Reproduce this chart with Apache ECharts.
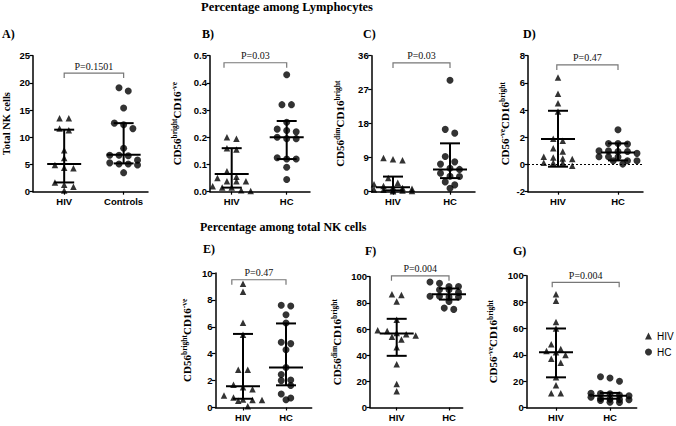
<!DOCTYPE html>
<html><head><meta charset="utf-8">
<script src="https://cdn.jsdelivr.net/npm/echarts@6/dist/echarts.min.js"></script>
<style>html,body{margin:0;padding:0;background:#fff}#c{width:676px;height:426px}</style>
</head><body><div id="c"></div>
<script>
// ---------- DATA ----------
const groupsA = ['HIV', 'Controls'];
const groupsB = ['HIV', 'HC'];

const aHIV  = [13.5, 13.5, 11.3, 11.6, 7.6, 6.2, 4.3, 4.9, 4.4, 1.3, 1.7, 0.9, 0.2];
const aCtrl = [19.1, 18.5, 15.4, 12.6, 12.3, 11.6, 8.0, 6.7, 6.6, 6.7, 5.8, 5.3, 5.1, 4.9, 5.1, 3.5];
const aHIVStats  = [1.7, 5.1, 11.4];   // q1, median, q3
const aCtrlStats = [5.2, 6.8, 12.6];

const bHIV = [0.2, 0.195, 0.16, 0.155, 0.075, 0.055, 0.05, 0.038, 0.038, 0.038, 0.02, 0.015, 0.015, 0.005, 0.003];
const bHC  = [0.43, 0.32, 0.32, 0.255, 0.225, 0.22, 0.23, 0.195, 0.2, 0.195, 0.125, 0.12, 0.12, 0.09, 0.045];
const bHIVStats = [0.015, 0.065, 0.16];
const bHCStats  = [0.12, 0.2, 0.26];

const cHIV = [8.9, 8.6, 8.3, 3.6, 2.4, 2.0, 1.5, 1.2, 1.0, 0.8, 0.6, 0.5, 0.4, 0.3, 0.2, 0.1];
const cHC  = [29.5, 16.5, 15.5, 9.3, 7.9, 7.3, 6.2, 5.9, 4.9, 4.1, 4.0, 2.6, 1.8, 0.9];
const cHIVStats = [0.35, 1.2, 4.0];
const cHCStats  = [3.6, 5.9, 12.8];

const dHIV = [6.4, 5.2, 4.5, 3.9, 1.9, 1.75, 1.2, 0.95, 0.52, 0.4, 0.45, 0.57, 0.13, 0.13, 0.13, -0.1];
const dHC  = [2.55, 1.55, 1.55, 1.5, 1.0, 1.0, 0.95, 0.95, 0.82, 0.57, 0.57, 0.55, 0.28, 0.28, 0.28, 0.03];
const dHIVStats = [-0.16, 1.88, 3.95];
const dHCStats  = [0.3, 0.88, 1.55];

const eHIV = [9.2, 8.6, 6.3, 5.4, 2.8, 2.8, 1.7, 1.5, 1.35, 0.9, 0.75, 0.6, 0.55, 0.55, 0.5, 0.1];
const eHC  = [7.55, 7.6, 6.9, 6.28, 4.75, 4.85, 4.3, 2.98, 2.45, 2.0, 2.05, 1.64, 1.0, 0.7, 0.57];
const eHIVStats = [0.65, 1.58, 5.47];
const eHCStats  = [1.65, 2.98, 6.25];

const fHIV = [86, 86.5, 81, 67, 59, 58.5, 57, 56, 55, 54, 52, 46, 33, 18, 12.5];
const fHC  = [95, 96, 92.5, 92, 92.5, 90, 90, 88, 85, 84.5, 84, 84.5, 85, 81, 76, 75];
const fHIVStats = [39.5, 56.5, 67.8];
const fHCStats  = [82.5, 86.5, 91];

const gHIV = [86, 81, 65, 60, 48, 44.5, 43, 42, 40, 37, 34, 23, 17, 11, 11];
const gHC  = [23.5, 22.5, 20, 11, 10.8, 10.5, 9.5, 9, 8, 7, 6.5, 6.3, 6, 5.5, 4.2, 4];
const gHIVStats = [23, 42, 60];
const gHCStats  = [6.8, 9, 11.2];

const yTicksA = [0, 5, 10, 15, 20, 25];
const yTicksB = [0, 0.1, 0.2, 0.3, 0.4, 0.5];
const yTicksC = [0, 9, 18, 27, 36];
const yTicksD = [-2, 0, 2, 4, 6, 8];
const yTicksE = [0, 2, 4, 6, 8, 10];
const yTicksF = [0, 20, 40, 60, 80, 100];
const yTicksG = [0, 20, 40, 60, 80, 100];

const pValues = ['P=0.1501', 'P=0.03', 'P=0.03', 'P=0.47', 'P=0.47', 'P=0.004', 'P=0.004'];
const titleTop = 'Percentage among Lymphocytes';
const titleBottom = 'Percentage among total NK cells';
const panelLetters = ['A)', 'B)', 'C)', 'D)', 'E)', 'F)', 'G)'];
const legendNames = ['HIV', 'HC'];

// ---------- LAYOUT ----------
const SERIF = '"Liberation Serif","Times New Roman",serif';
const SANS = '"Liberation Sans",Arial,sans-serif';
const nm = (t) => '{m|' + t + '}';
const sp = (t) => '{s|' + t + '}';
const panels = [
  {groups: groupsA, v1: aHIV, v2: aCtrl, s1: aHIVStats, s2: aCtrlStats, ticks: yTicksA, dec: 0,
   left: 30, right: 148, top: 55.7, bottom: 191.7, c1: 62, c2: 123,
   yname: nm('Total NK cells'), gap: 20, br: [1, 2, 21.8]},
  {groups: groupsB, v1: bHIV, v2: bHC, s1: bHIVStats, s2: bHCStats, ticks: yTicksB, dec: 1,
   left: 210, right: 310, top: 55.7, bottom: 191.7, c1: 231.7, c2: 286.7,
   yname: nm('CD56') + sp('bright') + nm('CD16') + sp('-ve'), gap: 27, br: [0.86, 2, 0.474]},
  {groups: groupsB, v1: cHIV, v2: cHC, s1: cHIVStats, s2: cHCStats, ticks: yTicksC, dec: 0,
   left: 371.7, right: 475, top: 55.7, bottom: 191.7, c1: 393, c2: 450,
   yname: nm('CD56') + sp('dim') + nm('CD16') + sp('bright'), gap: 25, br: [1, 2, 34.1]},
  {groups: groupsB, v1: dHIV, v2: dHC, s1: dHIVStats, s2: dHCStats, ticks: yTicksD, dec: 0,
   left: 528, right: 643, top: 55.7, bottom: 191.7, c1: 558, c2: 618,
   yname: nm('CD56') + sp('-ve') + nm('CD16') + sp('bright'), gap: 17, br: [0.98, 2, 7.32], zeroLine: true},
  {groups: groupsB, v1: eHIV, v2: eHC, s1: eHIVStats, s2: eHCStats, ticks: yTicksE, dec: 0,
   left: 215.5, right: 311.7, top: 273, bottom: 407.5, c1: 243, c2: 286,
   yname: nm('CD56') + sp('bright') + nm('CD16') + sp('-ve'), gap: 22, br: [0.74, 2, 9.5]},
  {groups: groupsB, v1: fHIV, v2: fHC, s1: fHIVStats, s2: fHCStats, ticks: yTicksF, dec: 0,
   left: 370, right: 462.7, top: 276.7, bottom: 407.5, c1: 396.7, c2: 449,
   yname: nm('CD56') + sp('dim') + nm('CD16') + sp('bright'), gap: 27, br: [0.9, 2, 100.7]},
  {groups: groupsB, v1: gHIV, v2: gHC, s1: gHIVStats, s2: gHCStats, ticks: yTicksG, dec: 0,
   left: 526.7, right: 636.7, top: 275.7, bottom: 407.7, c1: 556, c2: 610,
   yname: nm('CD56') + sp('-ve') + nm('CD16') + sp('bright'), gap: 27, br: [0.93, 2.17, 95]}
];
const letterPos = [[2, 35], [202, 35], [363, 35], [523, 35], [203, 250], [365, 252], [513, 252]];

// simple deterministic beeswarm: group close values into rows, centre each row
function swarm(vals, pxY, pxX, cat) {
  const idx = vals.map((v, i) => i).sort((a, b) => vals[b] - vals[a]);
  const rows = [];
  let cur = null;
  idx.forEach(i => {
    if (cur && (vals[cur[0]] - vals[i]) * pxY < 5.5 && cur.length < 5) cur.push(i);
    else { cur = [i]; rows.push(cur); }
  });
  const out = [];
  rows.forEach(r => r.forEach((i, k) => {
    const off = (k - (r.length - 1) / 2) * 9.5;
    out.push([cat + off / pxX, vals[i]]);
  }));
  return out;
}

const W = 676, H = 426;
const grid = [], xAxis = [], yAxis = [], series = [], graphic = [];
panels.forEach((p, i) => {
  const yMin = p.ticks[0], yMax = p.ticks[p.ticks.length - 1];
  const interval = p.ticks[1] - p.ticks[0];
  const unit = p.c2 - p.c1;
  const xMin = 1 - (p.c1 - p.left) / unit;
  const xMax = 2 + (p.right - p.c2) / unit;
  const pxY = (p.bottom - p.top) / (yMax - yMin);
  grid.push({left: p.left, top: p.top, width: p.right - p.left, height: p.bottom - p.top});
  xAxis.push({type: 'value', gridIndex: i, min: xMin, max: xMax,
    axisLine: {onZero: false, lineStyle: {color: '#000', width: 1.5}},
    axisTick: {customValues: [1, 2], length: 3, lineStyle: {color: '#000', width: 1.2}},
    axisLabel: {customValues: [1, 2], formatter: v => p.groups[Math.round(v) - 1] || '',
      color: '#000', fontFamily: SANS, fontSize: 9.5, fontWeight: 'bold', margin: 5},
    splitLine: {show: false}});
  yAxis.push({type: 'value', gridIndex: i, min: yMin, max: yMax, interval: interval,
    axisLine: {show: true, onZero: false, lineStyle: {color: '#000', width: 1.5}},
    axisTick: {show: true, length: 3.5, lineStyle: {color: '#000', width: 1.2}},
    axisLabel: {color: '#000', fontFamily: SANS, fontSize: 9.5, fontWeight: 'bold', margin: 3,
      formatter: v => v.toFixed(p.dec)},
    splitLine: {show: false},
    name: p.yname, nameLocation: 'middle', nameGap: p.gap, nameRotate: 90, nameMoveOverlap: false,
    nameTextStyle: {rich: {
      m: {fontFamily: SERIF, fontWeight: 'bold', fontSize: i === 0 ? 10.5 : 11, color: '#000', lineHeight: 13},
      s: {fontFamily: SERIF, fontWeight: 'bold', fontSize: 7.5, color: '#000', lineHeight: 8, verticalAlign: 'top'}
    }}});
  const s1 = {name: legendNames[0], type: 'scatter', xAxisIndex: i, yAxisIndex: i, symbol: 'triangle', symbolSize: 6.5,
    itemStyle: {color: '#000'}, data: swarm(p.v1, pxY, unit, 1), z: 2, silent: true};
  if (p.zeroLine) s1.markLine = {silent: true, symbol: 'none', label: {show: false},
    lineStyle: {type: [2, 2], color: '#000', width: 1}, data: [{yAxis: 0}]};
  series.push(s1);
  series.push({name: legendNames[1], type: 'scatter', xAxisIndex: i, yAxisIndex: i, symbol: 'circle', symbolSize: 7,
    itemStyle: {color: '#000'}, data: swarm(p.v2, pxY, unit, 2), z: 2, silent: true});
  // median + IQR bars
  series.push({type: 'custom', xAxisIndex: i, yAxisIndex: i, z: 5, silent: true,
    data: [[1].concat(p.s1), [2].concat(p.s2)], encode: {x: 0, y: [1, 2, 3]},
    renderItem: (params, api) => {
      const x = api.value(0);
      const a = api.coord([x, api.value(1)]), m = api.coord([x, api.value(2)]), b = api.coord([x, api.value(3)]);
      const st = {stroke: '#000', lineWidth: 2};
      return {type: 'group', children: [
        {type: 'line', shape: {x1: a[0], y1: a[1], x2: b[0], y2: b[1]}, style: st},
        {type: 'line', shape: {x1: m[0] - 17, y1: m[1], x2: m[0] + 17, y2: m[1]}, style: st},
        {type: 'line', shape: {x1: a[0] - 10, y1: a[1], x2: a[0] + 10, y2: a[1]}, style: st},
        {type: 'line', shape: {x1: b[0] - 10, y1: b[1], x2: b[0] + 10, y2: b[1]}, style: st}
      ]};
    }});
  // significance bracket
  series.push({type: 'custom', xAxisIndex: i, yAxisIndex: i, z: 5, silent: true, clip: false,
    data: [[p.br[0], p.br[1], p.br[2]]], encode: {x: [0, 1], y: 2},
    renderItem: (params, api) => {
      const l = api.coord([api.value(0), api.value(2)]), r = api.coord([api.value(1), api.value(2)]);
      return {type: 'group', children: [
        {type: 'polyline', shape: {points: [[l[0], l[1] + 5], [l[0], l[1]], [r[0], r[1]], [r[0], r[1] + 5]]},
          style: {stroke: '#777', lineWidth: 1.2, fill: null}},
        {type: 'text', style: {text: pValues[i], x: (l[0] + r[0]) / 2, y: l[1] - 2, align: 'center',
          verticalAlign: 'bottom', font: '10px ' + SERIF, fill: '#111'}}
      ]};
    }});
  graphic.push({type: 'text', left: letterPos[i][0], top: letterPos[i][1] - 7,
    style: {text: panelLetters[i], font: 'bold 12px ' + SERIF, fill: '#000'}});
});
graphic.push({type: 'text', left: 201, top: 0, style: {text: titleTop, font: 'bold 12.5px ' + SERIF, fill: '#000'}});
graphic.push({type: 'text', left: 200, top: 221, style: {text: titleBottom, font: 'bold 12px ' + SERIF, fill: '#000'}});

const chart = echarts.init(document.getElementById('c'), null, {renderer: 'svg', width: W, height: H});
chart.setOption({
  animation: false,
  backgroundColor: '#fff',
  grid, xAxis, yAxis, series, graphic,
  legend: {data: [{name: 'HIV', icon: 'triangle'}, {name: 'HC', icon: 'circle'}], orient: 'vertical',
    left: 645, top: 331, itemWidth: 7, itemHeight: 7, itemGap: 6, selectedMode: false, padding: 0,
    textStyle: {fontFamily: SANS, fontSize: 10, color: '#000'}}
});
</script></body></html>
